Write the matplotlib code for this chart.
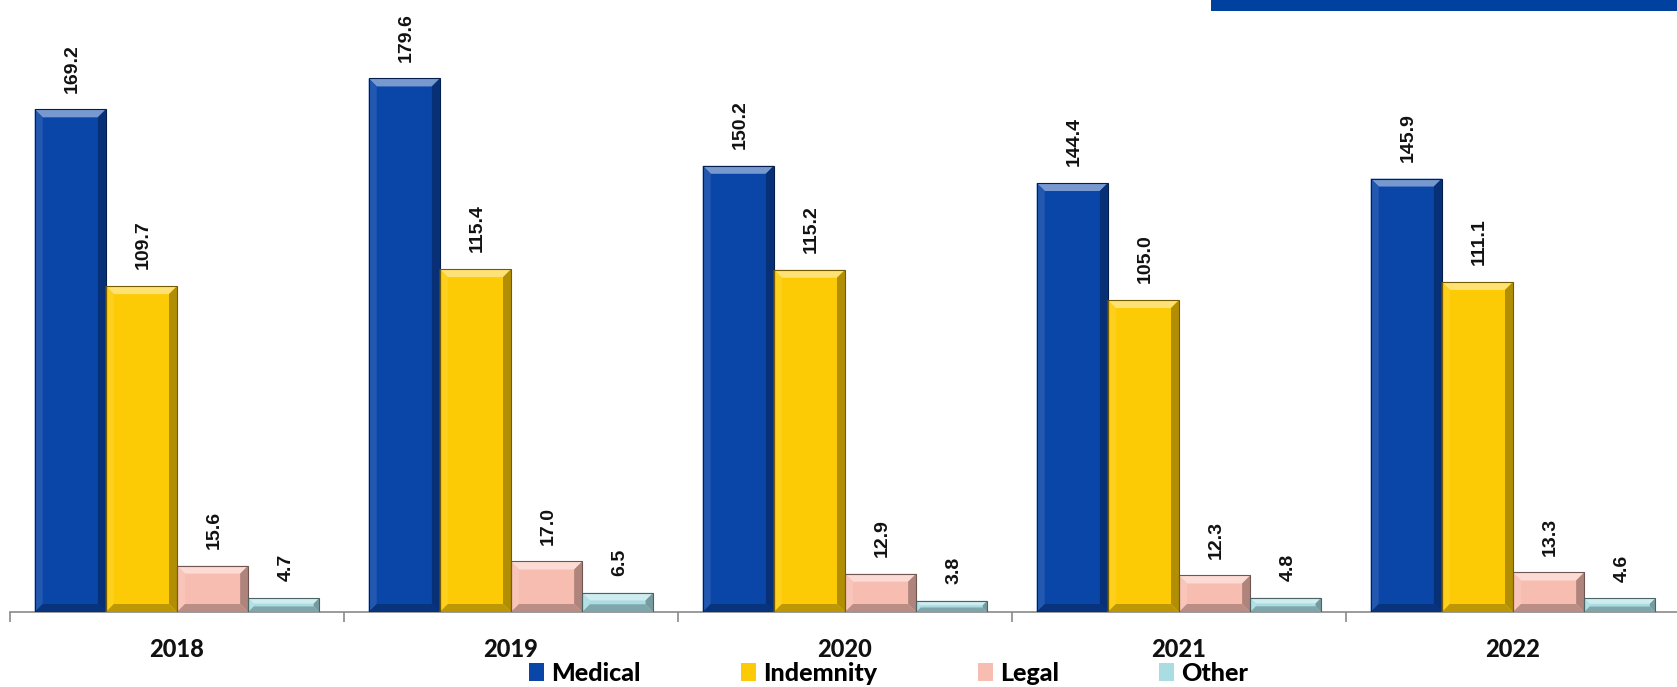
import numpy as np
import matplotlib.pyplot as plt
from matplotlib.patches import Rectangle, Polygon
from matplotlib.colors import to_rgb

years = ["2018", "2019", "2020", "2021", "2022"]
medical = [169.2, 179.6, 150.2, 144.4, 145.9]
indemnity = [109.7, 115.4, 115.2, 105.0, 111.1]
legal = [15.6, 17.0, 12.9, 12.3, 13.3]
other = [4.7, 6.5, 3.8, 4.8, 4.6]

series = [
    ("Medical", medical, "#0A45A8"),
    ("Indemnity", indemnity, "#FDCB05"),
    ("Legal", legal, "#F8BDB1"),
    ("Other", other, "#A9DDE2"),
]

W, H = 1677, 687
fig = plt.figure(figsize=(W / 100, H / 100), dpi=100)
ax = fig.add_axes([10 / W, 1 - 612 / H, 1670 / W, 612 / H])
ax.set_xlim(-0.5, len(years) - 0.5)
ax.set_ylim(0, 206)


def shade(c, f):
    r = np.array(to_rgb(c))
    if f > 0:
        return tuple(r + (1 - r) * f)
    return tuple(r * (1 + f))


def bevel(rect, color, size=8):
    # fake 3D bevel drawn on top of each bar
    x0, y0 = rect.get_x(), rect.get_y()
    x1, y1 = x0 + rect.get_width(), y0 + rect.get_height()
    (px0, py0), (px1, py1) = ax.transData.transform([(x0, y0), (x1, y1)])
    b = min(size, (py1 - py0) / 2.5, (px1 - px0) / 4)
    inv = ax.transData.inverted()
    (ix0, iy0), (ix1, iy1) = inv.transform([(px0 + b, py0 + b), (px1 - b, py1 - b)])
    faces = [
        ([(x0, y1), (x1, y1), (ix1, iy1), (ix0, iy1)], shade(color, 0.45)),
        ([(x0, y0), (x0, y1), (ix0, iy1), (ix0, iy0)], shade(color, 0.1)),
        ([(x1, y0), (x1, y1), (ix1, iy1), (ix1, iy0)], shade(color, -0.3)),
        ([(x0, y0), (x1, y0), (ix1, iy0), (ix0, iy0)], shade(color, -0.25)),
    ]
    for pts, fc in faces:
        ax.add_patch(Polygon(pts, closed=True, facecolor=fc, edgecolor="none", zorder=3))
    ax.add_patch(Rectangle((x0, y0), x1 - x0, y1 - y0, facecolor="none",
                           edgecolor=shade(color, -0.55), lw=0.8, zorder=4))


x = np.arange(len(years))
w = 0.213
for i, (name, vals, col) in enumerate(series):
    pos = x + (i - 1.5) * w
    bars = ax.bar(pos, vals, w, color=col, label=name, zorder=2)
    for rect, v in zip(bars, vals):
        bevel(rect, col)
        ax.annotate(f"{v:.1f}", (rect.get_x() + w / 2, v), xytext=(1.5, 12),
                    textcoords="offset points", rotation=90, ha="center",
                    va="bottom", fontsize=14, fontweight="bold",
                    family="Liberation Sans", color="#111111")

for s in ["top", "right", "left"]:
    ax.spines[s].set_visible(False)
ax.spines["bottom"].set_color("#8a8a8a")
ax.spines["bottom"].set_linewidth(1.2)
ax.set_yticks([])
ax.set_xticks(np.arange(-0.5, len(years)), labels=[])
ax.tick_params(axis="x", which="major", length=7, width=1.2, color="#8a8a8a")
ax.set_xticks(x, labels=years, minor=True)
ax.tick_params(axis="x", which="minor", length=0, pad=19)
for lab in ax.get_xticklabels(minor=True):
    lab.set_fontsize(17)
    lab.set_fontweight(900)
    lab.set_family("Lato")
    lab.set_color("#111111")

leg = fig.legend(loc="center", bbox_to_anchor=(0.530, 0.02), ncol=4, frameon=False,
                 prop={"family": "Lato", "weight": 900, "size": 18},
                 handlelength=0.6, handleheight=0.7, handletextpad=0.3,
                 columnspacing=4.0)

fig.patches.append(Rectangle((1211 / W, 1 - 11 / H), (W - 1211) / W, 11 / H,
                             transform=fig.transFigure, facecolor="#0041A0",
                             edgecolor="none"))

fig.savefig("out.png", dpi=100)
